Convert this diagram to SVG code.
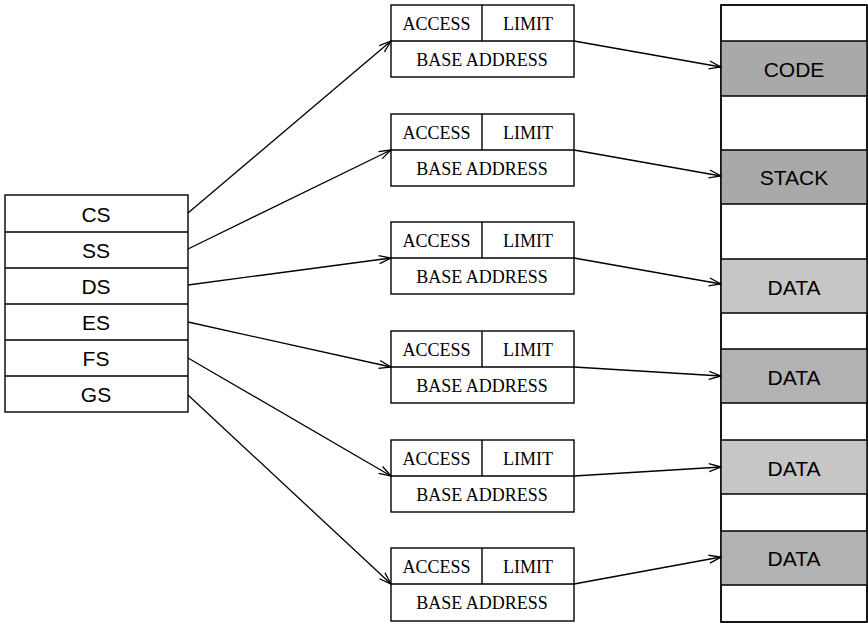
<svg xmlns="http://www.w3.org/2000/svg" width="868" height="623" viewBox="0 0 868 623">
<style>
.box{fill:#fff;stroke:#000;stroke-width:1.4}
.ln{stroke:#000;stroke-width:1.4;fill:none}
.sans{font-family:"Liberation Sans",Arial,sans-serif;font-size:21px;text-anchor:middle;dominant-baseline:central}
.serif{font-family:"Liberation Serif","Times New Roman",serif;font-size:18px;text-anchor:middle;dominant-baseline:central}
.conn{stroke:#000;stroke-width:1.3;fill:none;marker-end:url(#arr)}
.g1{fill:#a9a9a9}
.g2{fill:#c6c6c6}
.g3{fill:#b2b2b2}
</style>
<defs>
<marker id="arr" markerWidth="14" markerHeight="10" refX="13" refY="5" orient="auto" markerUnits="userSpaceOnUse">
<path d="M1,1 L13,5 L1,9" fill="none" stroke="#000" stroke-width="1.3"/>
</marker>
</defs>

<g id="segment-registers">
<rect class="box" x="5" y="195" width="183" height="217"/>
<path class="ln" d="M5,232H188M5,268H188M5,304H188M5,340H188M5,376H188"/>
<text class="sans" x="96" y="214">CS</text>
<text class="sans" x="96" y="250">SS</text>
<text class="sans" x="96" y="286">DS</text>
<text class="sans" x="96" y="322">ES</text>
<text class="sans" x="96" y="358">FS</text>
<text class="sans" x="96" y="394">GS</text>
</g>

<g id="desc1">
<rect class="box" x="391" y="5" width="183" height="72"/>
<path class="ln" d="M391,41H574M482,5V41"/>
<text class="serif" x="436.5" y="24">ACCESS</text>
<text class="serif" x="528" y="24">LIMIT</text>
<text class="serif" x="482" y="60">BASE ADDRESS</text>
</g>
<g id="desc2">
<rect class="box" x="391" y="114" width="183" height="72"/>
<path class="ln" d="M391,150H574M482,114V150"/>
<text class="serif" x="436.5" y="133">ACCESS</text>
<text class="serif" x="528" y="133">LIMIT</text>
<text class="serif" x="482" y="169">BASE ADDRESS</text>
</g>
<g id="desc3">
<rect class="box" x="391" y="222" width="183" height="72"/>
<path class="ln" d="M391,258H574M482,222V258"/>
<text class="serif" x="436.5" y="241">ACCESS</text>
<text class="serif" x="528" y="241">LIMIT</text>
<text class="serif" x="482" y="277">BASE ADDRESS</text>
</g>
<g id="desc4">
<rect class="box" x="391" y="331" width="183" height="72"/>
<path class="ln" d="M391,367H574M482,331V367"/>
<text class="serif" x="436.5" y="350">ACCESS</text>
<text class="serif" x="528" y="350">LIMIT</text>
<text class="serif" x="482" y="386">BASE ADDRESS</text>
</g>
<g id="desc5">
<rect class="box" x="391" y="440" width="183" height="72"/>
<path class="ln" d="M391,476H574M482,440V476"/>
<text class="serif" x="436.5" y="459">ACCESS</text>
<text class="serif" x="528" y="459">LIMIT</text>
<text class="serif" x="482" y="495">BASE ADDRESS</text>
</g>
<g id="desc6">
<rect class="box" x="391" y="548" width="183" height="73"/>
<path class="ln" d="M391,584H574M482,548V584"/>
<text class="serif" x="436.5" y="567">ACCESS</text>
<text class="serif" x="528" y="567">LIMIT</text>
<text class="serif" x="482" y="603">BASE ADDRESS</text>
</g>

<g id="memory">
<rect class="box" x="721" y="5" width="146" height="617"/>
<rect class="g1" x="721" y="41" width="146" height="55"/>
<rect class="g1" x="721" y="150" width="146" height="54"/>
<rect class="g2" x="721" y="259" width="146" height="54"/>
<rect class="g3" x="721" y="349" width="146" height="54"/>
<rect class="g2" x="721" y="440" width="146" height="54"/>
<rect class="g3" x="721" y="531" width="146" height="54"/>
<path class="ln" d="M721,41H867M721,96H867M721,150H867M721,204H867M721,259H867M721,313H867M721,349H867M721,403H867M721,440H867M721,494H867M721,531H867M721,585H867"/>
<rect x="721" y="5" width="146" height="617" fill="none" stroke="#000" stroke-width="1.4"/>
<text class="sans" x="794" y="69">CODE</text>
<text class="sans" x="794" y="177">STACK</text>
<text class="sans" x="794" y="287">DATA</text>
<text class="sans" x="794" y="377">DATA</text>
<text class="sans" x="794" y="468">DATA</text>
<text class="sans" x="794" y="558">DATA</text>
</g>

<g id="connectors">
<line class="conn" x1="188" y1="213" x2="391" y2="41"/>
<line class="conn" x1="188" y1="249" x2="391" y2="150"/>
<line class="conn" x1="188" y1="285" x2="391" y2="258"/>
<line class="conn" x1="188" y1="322" x2="391" y2="367"/>
<line class="conn" x1="188" y1="358" x2="391" y2="476"/>
<line class="conn" x1="188" y1="395" x2="391" y2="584"/>
<line class="conn" x1="574" y1="41" x2="721" y2="67"/>
<line class="conn" x1="574" y1="150" x2="721" y2="176"/>
<line class="conn" x1="574" y1="258" x2="721" y2="284"/>
<line class="conn" x1="574" y1="367" x2="721" y2="376"/>
<line class="conn" x1="574" y1="476" x2="721" y2="467"/>
<line class="conn" x1="574" y1="584" x2="721" y2="557"/>
</g>
</svg>
